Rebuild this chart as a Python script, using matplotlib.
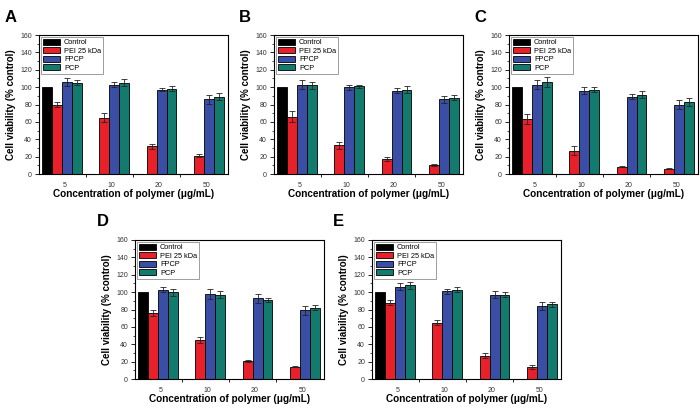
import matplotlib
matplotlib.use("Agg")
import matplotlib.pyplot as plt
import numpy as np
from matplotlib.ticker import MultipleLocator, FixedLocator

plt.rcParams['font.family'] = ['Liberation Sans', 'DejaVu Sans']

categories = ["5", "10", "20", "50"]
series_names = ["Control", "PEI 25 kDa", "FPCP", "PCP"]
colors = ["#000000", "#E8202A", "#3A4EA6", "#137A6E"]

control = [100, np.nan, np.nan, np.nan]
control_err = [0, 0, 0, 0]

pei_A = [80, 65, 32, 21];   pei_A_err = [3, 5, 3, 2]
fpcp_A = [106, 103, 97, 86]; fpcp_A_err = [5, 3, 2, 5]
pcp_A = [105, 105, 98, 89];  pcp_A_err = [3, 4, 3, 4]

pei_B = [66, 33, 17, 10.5];  pei_B_err = [6, 4, 2, 1]
fpcp_B = [103, 100, 96, 86]; fpcp_B_err = [5, 3, 3, 4]
pcp_B = [102, 101, 97, 88];  pcp_B_err = [4, 2, 4, 3]

pei_C = [63, 27, 8.5, 6];    pei_C_err = [6, 5, 1, 0.5]
fpcp_C = [103, 96, 89, 80];  fpcp_C_err = [5, 4, 3, 5]
pcp_C = [106, 97, 91, 83];   pcp_C_err = [6, 3, 4, 5]

pei_D = [76, 45, 21, 14];    pei_D_err = [4, 3, 1, 0.5]
fpcp_D = [103, 98, 93, 79];  fpcp_D_err = [3, 6, 5, 5]
pcp_D = [100, 97, 91, 82];   pcp_D_err = [4, 4, 2, 3]

pei_E = [88, 65, 27, 14];    pei_E_err = [3, 3, 3, 2]
fpcp_E = [106, 101, 97, 84]; fpcp_E_err = [4, 3, 4, 5]
pcp_E = [108, 103, 97, 86];  pcp_E_err = [4, 3, 3, 3]

panels = [
    ("A", [control, pei_A, fpcp_A, pcp_A], [control_err, pei_A_err, fpcp_A_err, pcp_A_err]),
    ("B", [control, pei_B, fpcp_B, pcp_B], [control_err, pei_B_err, fpcp_B_err, pcp_B_err]),
    ("C", [control, pei_C, fpcp_C, pcp_C], [control_err, pei_C_err, fpcp_C_err, pcp_C_err]),
    ("D", [control, pei_D, fpcp_D, pcp_D], [control_err, pei_D_err, fpcp_D_err, pcp_D_err]),
    ("E", [control, pei_E, fpcp_E, pcp_E], [control_err, pei_E_err, fpcp_E_err, pcp_E_err]),
]

W, H = 700, 408
fig = plt.figure(figsize=(7, 4.08), dpi=100)

# axes pixel boxes (left, top, right, bottom)
boxes = [(39, 35, 228, 174), (274, 35, 463, 174), (509, 35, 698, 174),
         (135, 240, 324, 379), (372, 240, 561, 379)]
letter_pos = [(5, 17), (239, 17), (474, 17), (97, 222), (333, 222)]

width = 0.21
x = np.arange(1, len(categories) + 1)

for (name, vals, errs), (l, t, r, b), (lx, ly) in zip(panels, boxes, letter_pos):
    ax = fig.add_axes([l / W, 1 - b / H, (r - l) / W, (b - t) / H])
    for i, (v, e, c, s) in enumerate(zip(vals, errs, colors, series_names)):
        v = np.array(v, dtype=float)
        e = np.array(e, dtype=float)
        pos = x + (i - 1.5) * width
        ax.bar(pos, v, width, color=c, edgecolor="black", linewidth=0.6, label=s, zorder=2)
        mask = (~np.isnan(v)) & (e > 0)
        ax.errorbar(pos[mask], v[mask], yerr=e[mask], fmt="none", ecolor="#222222",
                    elinewidth=0.6, capsize=2, capthick=0.6, zorder=3)
    ax.set_ylim(0, 160)
    ax.set_xlim(0.51, 4.51)
    ax.yaxis.set_major_locator(MultipleLocator(20))
    ax.yaxis.set_minor_locator(MultipleLocator(10))
    ax.set_xticks(x + 0.05)
    ax.set_xticklabels(categories)
    ax.xaxis.set_minor_locator(FixedLocator([1.5, 2.5, 3.5]))
    ax.tick_params(axis="x", which="major", length=0, pad=6, labelsize=5, labelcolor="#333333")
    ax.tick_params(axis="x", which="minor", length=2.5, width=0.6, direction="out")
    ax.tick_params(axis="y", which="major", length=3, width=0.6, labelsize=5, labelcolor="#333333", pad=2)
    ax.tick_params(axis="y", which="minor", length=1.5, width=0.5)
    for sp in ax.spines.values():
        sp.set_linewidth(0.8)
    ax.set_ylabel("Cell viability (% control)", fontsize=7, fontweight="bold", labelpad=3)
    ax.set_xlabel("Concentration of polymer (\u03bcg/mL)", fontsize=7.2, fontweight="bold", labelpad=0)
    leg = ax.legend(loc="upper left", fontsize=5.3, frameon=True, fancybox=False,
                    edgecolor="#555555", handlelength=2.4, handleheight=0.9,
                    handletextpad=0.5, labelspacing=0.12, borderpad=0.25,
                    borderaxespad=0.25)
    leg.get_frame().set_linewidth(0.5)
    fig.text(lx / W, 1 - ly / H, name, fontsize=12, fontweight="bold", ha="left", va="center")

fig.savefig("out.png", dpi=100)
